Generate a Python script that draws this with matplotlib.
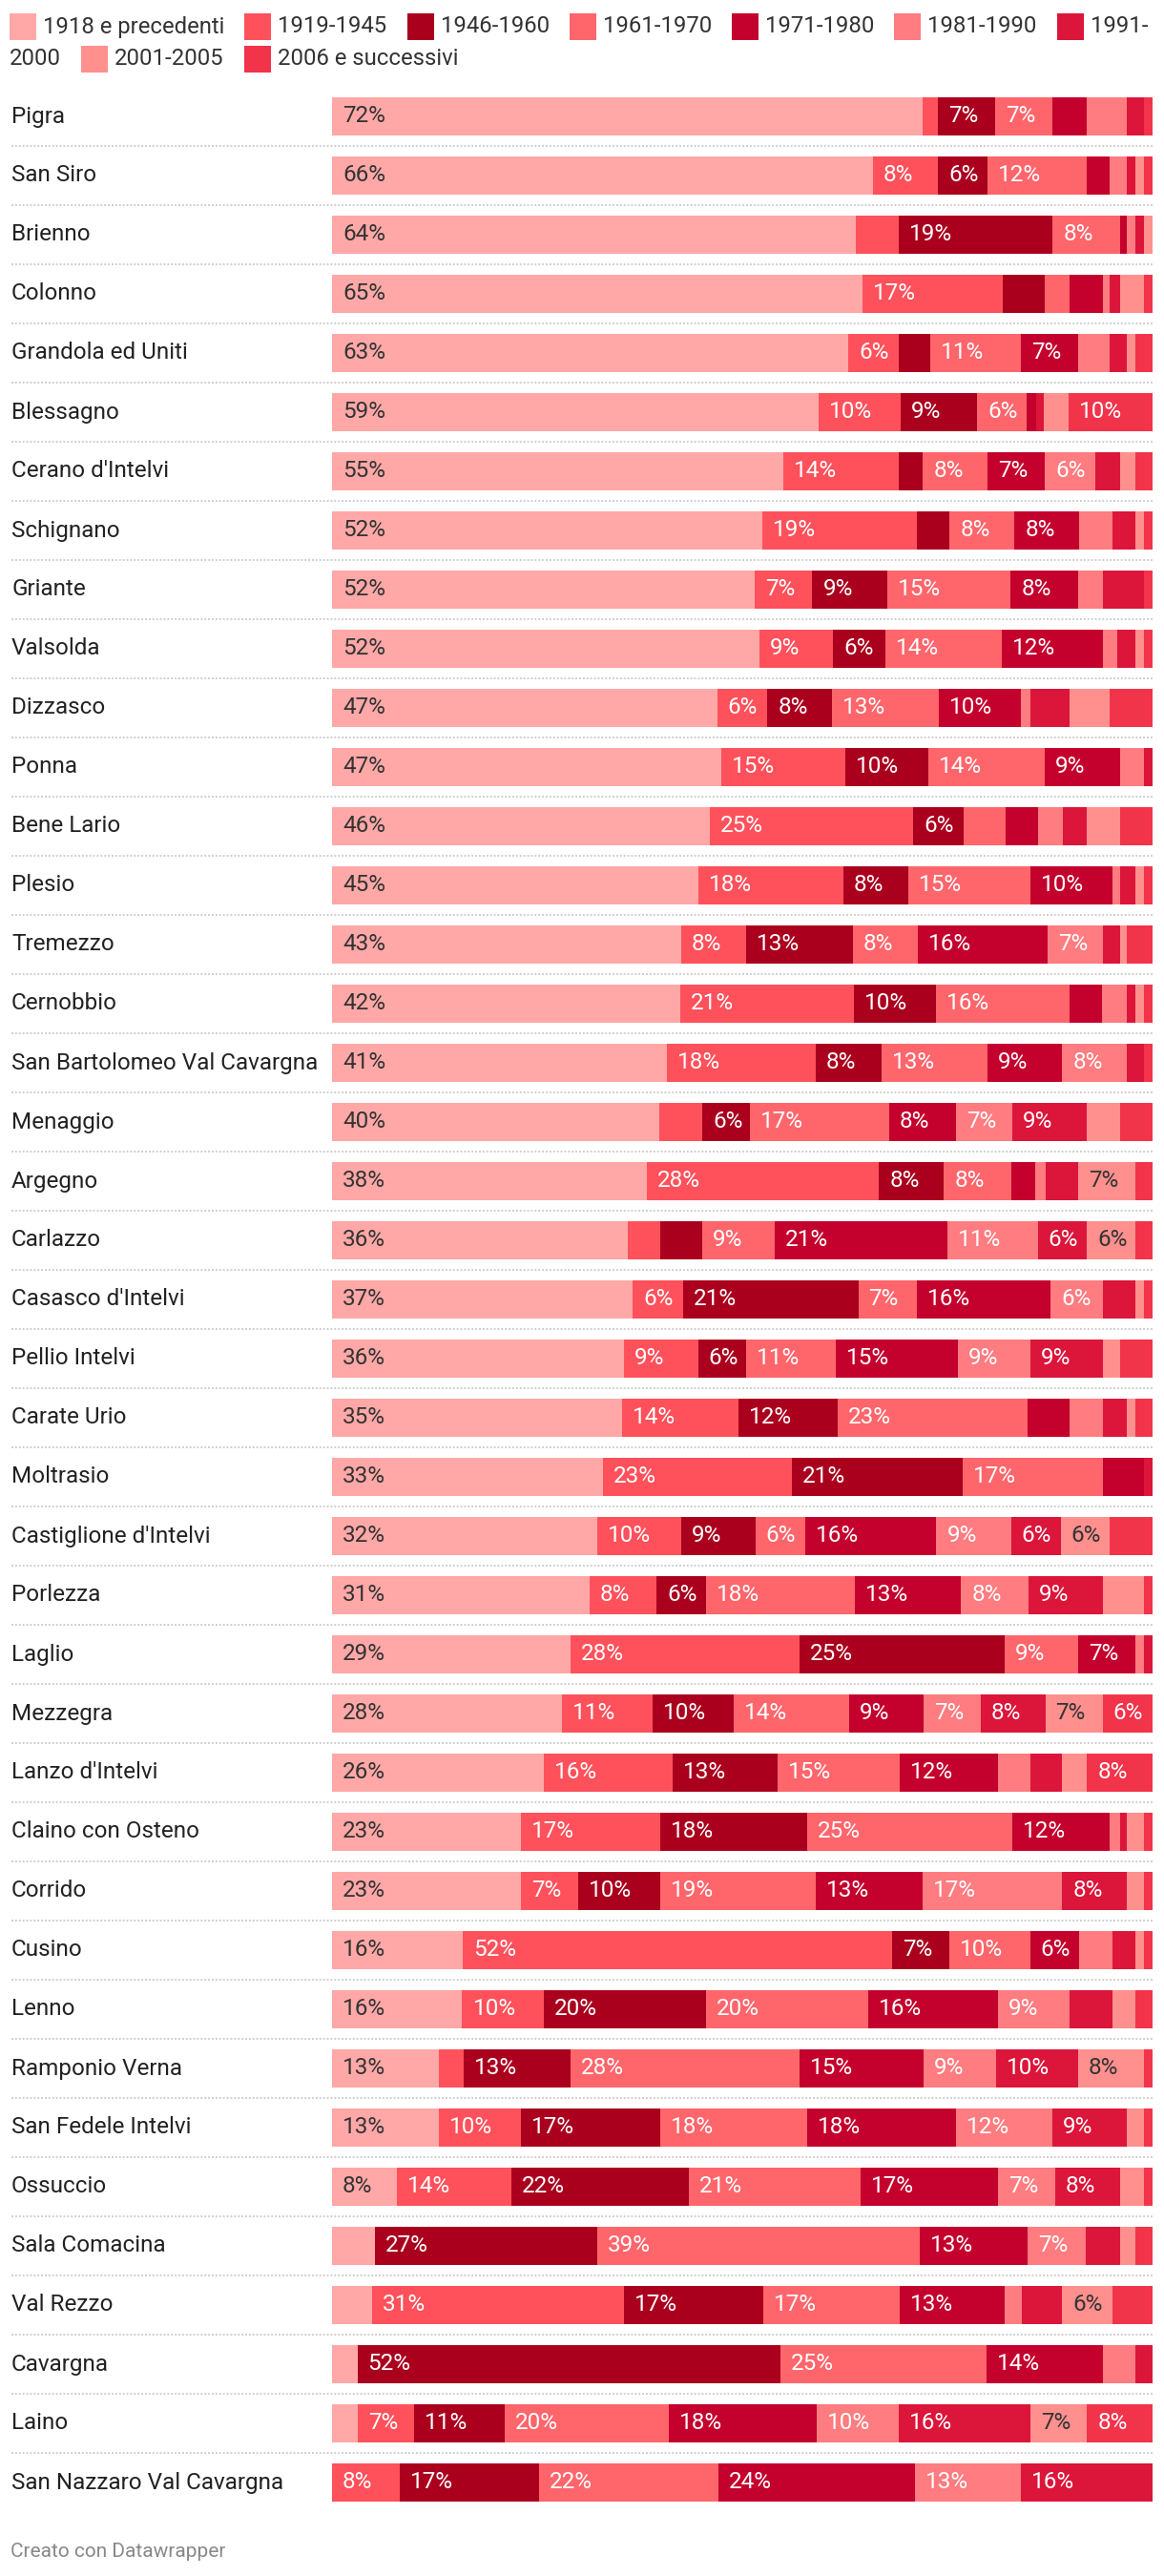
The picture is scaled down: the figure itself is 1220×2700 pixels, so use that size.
import numpy as np
import matplotlib.pyplot as plt
from matplotlib.patches import Rectangle
from matplotlib.transforms import blended_transform_factory

plt.rcParams['font.family'] = ['Roboto', 'DejaVu Sans']

# =========================================================================
# Comuni e quote (%) di abitazioni per epoca di costruzione

comuni = ['Pigra', 'San Siro', 'Brienno', 'Colonno', 'Grandola ed Uniti', 'Blessagno',
          "Cerano d'Intelvi", 'Schignano', 'Griante', 'Valsolda', 'Dizzasco', 'Ponna',
          'Bene Lario', 'Plesio', 'Tremezzo', 'Cernobbio', 'San Bartolomeo Val Cavargna',
          'Menaggio', 'Argegno', 'Carlazzo', "Casasco d'Intelvi", 'Pellio Intelvi',
          'Carate Urio', 'Moltrasio', "Castiglione d'Intelvi", 'Porlezza', 'Laglio',
          'Mezzegra', "Lanzo d'Intelvi", 'Claino con Osteno', 'Corrido', 'Cusino', 'Lenno',
          'Ramponio Verna', 'San Fedele Intelvi', 'Ossuccio', 'Sala Comacina', 'Val Rezzo',
          'Cavargna', 'Laino', 'San Nazzaro Val Cavargna']

periodi = ['1918 e precedenti', '1919-1945', '1946-1960', '1961-1970', '1971-1980',
           '1981-1990', '1991-2000', '2001-2005', '2006 e successivi']

colori = ['#ffa8a7', '#ff515b', '#aa001e', '#ff666c', '#c4002d',
          '#ff7c80', '#dc153a', '#ff908e', '#f2344b']

p1918 = [72.0, 66.0, 63.9, 64.6, 63.0, 59.3, 55.1, 52.4, 51.6, 52.1, 47.0, 47.4, 46.1, 44.6,
         42.6, 42.3, 40.9, 40.0, 38.4, 36.1, 36.7, 35.6, 35.4, 33.0, 32.4, 31.4, 29.1, 28.1,
         25.8, 23.0, 23.0, 15.9, 15.9, 13.0, 13.0, 7.9, 5.2, 4.9, 3.1, 3.1, 0.0]
p1919 = [1.9, 7.9, 5.2, 17.2, 6.1, 10.0, 14.0, 18.8, 7.0, 9.0, 6.1, 15.1, 24.9, 17.7,
         8.0, 21.2, 18.1, 5.2, 28.4, 3.9, 6.1, 9.1, 14.2, 23.0, 10.2, 8.2, 27.9, 11.0,
         15.8, 17.0, 7.0, 52.3, 10.0, 3.0, 10.0, 14.0, 0.0, 30.7, 0.0, 6.9, 8.2]
p1946 = [7.0, 6.1, 18.8, 5.1, 3.9, 9.3, 3.0, 4.0, 9.1, 6.3, 7.9, 10.2, 6.1, 7.9,
         13.0, 10.0, 8.0, 5.8, 7.9, 5.2, 21.4, 5.9, 12.1, 20.9, 9.1, 6.1, 25.1, 10.0,
         12.8, 17.9, 10.0, 7.0, 19.8, 13.0, 17.0, 21.7, 27.2, 17.0, 51.6, 11.0, 17.0]
p1961 = [7.0, 12.1, 8.2, 3.0, 11.0, 6.0, 7.9, 7.9, 15.1, 14.2, 13.0, 14.2, 5.1, 14.9,
         7.9, 16.2, 13.0, 17.0, 8.2, 8.8, 7.2, 10.9, 23.2, 17.0, 6.1, 18.1, 8.9, 14.0,
         14.9, 25.0, 19.0, 9.8, 19.8, 27.9, 17.9, 20.9, 39.3, 16.7, 25.1, 20.0, 21.9]
p1971 = [4.2, 2.8, 0.9, 4.0, 7.0, 1.2, 7.0, 7.9, 8.2, 12.3, 10.0, 9.1, 4.0, 10.0,
         15.9, 4.0, 9.1, 8.2, 3.0, 21.1, 16.3, 14.9, 5.1, 5.1, 16.0, 13.0, 7.0, 9.1,
         11.9, 11.9, 13.0, 6.0, 15.8, 15.1, 18.1, 16.8, 13.2, 12.8, 14.2, 18.1, 23.9]
p1981 = [4.9, 2.1, 1.0, 0.9, 3.9, 0.0, 6.1, 4.0, 3.0, 1.8, 1.2, 3.0, 3.0, 0.9,
         6.7, 3.0, 7.9, 6.9, 1.2, 11.0, 6.3, 8.9, 4.0, 0.0, 9.1, 8.2, 1.1, 7.0,
         4.0, 1.2, 17.0, 4.0, 8.8, 8.8, 11.8, 7.0, 7.0, 2.1, 4.0, 10.0, 13.0]
p1991 = [2.1, 1.0, 1.1, 1.2, 2.1, 0.9, 3.0, 2.8, 5.1, 2.2, 4.8, 1.0, 3.0, 1.9,
         2.1, 1.0, 2.1, 9.1, 4.0, 6.0, 4.0, 8.8, 3.0, 1.0, 6.1, 9.1, 1.0, 7.9,
         3.9, 0.9, 7.9, 2.8, 5.2, 10.0, 9.1, 7.9, 4.2, 4.9, 2.1, 16.0, 16.0]
p2001 = [0.0, 1.1, 1.0, 3.0, 1.0, 3.1, 1.9, 1.1, 0.0, 1.1, 4.9, 0.0, 4.0, 1.1,
         0.9, 1.1, 0.0, 4.0, 7.0, 5.9, 1.1, 2.1, 1.0, 0.0, 6.0, 5.1, 0.0, 7.0,
         3.0, 2.1, 2.1, 1.1, 2.8, 8.1, 2.1, 3.0, 1.9, 6.1, 0.0, 6.9, 0.0]
p2006 = [1.0, 1.0, 0.0, 1.0, 2.1, 10.2, 2.1, 1.0, 1.0, 1.0, 5.2, 0.0, 4.0, 1.0,
         3.1, 1.0, 1.0, 4.0, 2.1, 2.1, 1.0, 4.0, 2.1, 0.0, 5.2, 1.0, 0.0, 6.1,
         8.0, 1.0, 1.0, 1.0, 2.1, 1.0, 1.0, 1.0, 2.1, 4.9, 0.0, 8.0, 0.0]

# =========================================================================
serie = np.array([p1918, p1919, p1946, p1961, p1971, p1981, p1991, p2001, p2006]).T
quote = serie / serie.sum(axis=1, keepdims=True) * 100

W, H, DPI = 1220, 2700, 100
fig = plt.figure(figsize=(W / DPI, H / DPI), dpi=DPI)

n = len(comuni)
left_px, right_px, top_px, row_px = 348, 1208, 91, 62
ax = fig.add_axes([left_px / W, 1 - (top_px + n * row_px) / H,
                   (right_px - left_px) / W, n * row_px / H])
ax.set_xlim(0, 100)
ax.set_ylim(n - 0.5, -0.5)
ax.axis('off')

y = np.arange(n)
inizio = np.zeros(n)
for j, col in enumerate(colori):
    ax.barh(y, quote[:, j], left=inizio, height=0.63, color=col, linewidth=0)
    txt_col = '#333333' if j in (0, 7) else 'white'
    for i in range(n):
        if serie[i, j] >= 5.5:
            ax.annotate('{:.0f}%'.format(serie[i, j]), (inizio[i], i), xytext=(11, 0),
                        textcoords='offset pixels', ha='left', va='center',
                        fontsize=17.5, color=txt_col)
    inizio += quote[:, j]

# nomi dei comuni e separatori tratteggiati
blend = blended_transform_factory(fig.transFigure, ax.transData)
for i, nome in enumerate(comuni):
    ax.text(12 / W, i, nome, transform=blend, ha='left', va='center',
            fontsize=17.5, color='#222222', clip_on=False)
ax.hlines(y[:-1] + 0.5, 12 / W, 1208 / W, transform=blend, colors='#cfcfcf',
          linestyles=(0, (1, 1)), linewidth=1.4, clip_on=False)

# =========================================================================
# legenda in alto, a capo come nell'originale
renderer = fig.canvas.get_renderer()
righe_y = [28, 62]
sq = 28
fs_leg = 17.2


def scrivi(s, x, r):
    t = fig.text(x / W, 1 - righe_y[r] / H, s, ha='left', va='center',
                 fontsize=fs_leg, color='#333333')
    return t.get_window_extent(renderer).width


def misura(s):
    t = fig.text(0, 0, s, fontsize=fs_leg)
    w = t.get_window_extent(renderer).width
    t.remove()
    return w


x, r = 10, 0
for nome, col in zip(periodi, colori):
    w = misura(nome)
    if x + sq + 7 + w > W - 10 and '-' not in nome:
        x, r = 10, r + 1
    fig.add_artist(Rectangle((x / W, 1 - (righe_y[r] + sq / 2) / H), sq / W, sq / H,
                             transform=fig.transFigure, color=col, linewidth=0))
    x += sq + 7
    if x + w > W - 10:
        testa, coda = nome.split('-', 1)
        scrivi(testa + '-', x, r)
        x, r = 10, r + 1
        x += scrivi(coda, x, r) + 21
    else:
        x += scrivi(nome, x, r) + 21

fig.text(11 / W, 1 - 2675 / H, 'Creato con Datawrapper', ha='left', va='center',
         fontsize=15, color='#888888')

fig.savefig('out.png', dpi=DPI)
plt.close()
